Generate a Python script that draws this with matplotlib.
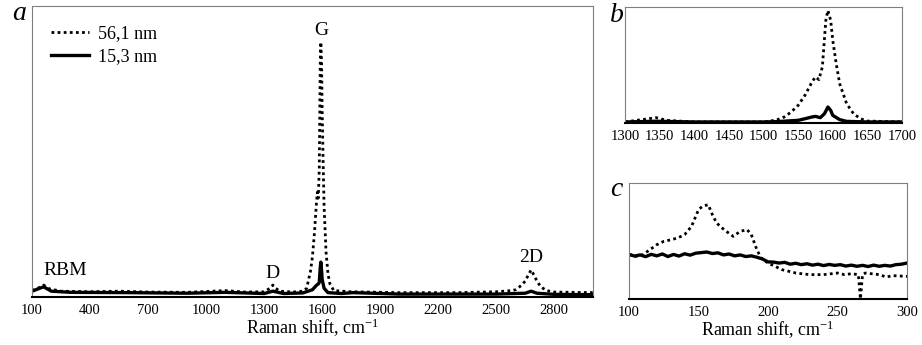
import matplotlib
matplotlib.use('Agg')
import matplotlib.pyplot as plt

plt.rcParams['font.family'] = ['Liberation Serif', 'DejaVu Serif']
plt.rcParams['mathtext.fontset'] = 'stix'

# panel a: full spectrum (relative intensity)
a_x_561 = [100, 130, 160, 190, 250, 400, 550, 700, 900, 1100, 1200, 1300, 1330, 1345, 1360, 1380,
           1450, 1500, 1520, 1540, 1550, 1560, 1570, 1575, 1580, 1585, 1590, 1593, 1597, 1600,
           1605, 1610, 1620, 1630, 1640, 1660, 1750, 2000, 2300, 2500, 2580, 2600, 2630, 2650,
           2665, 2680, 2695, 2710, 2730, 2760, 2800, 3000]
a_y_561 = [0.022, 0.030, 0.041, 0.028, 0.020, 0.018, 0.020, 0.017, 0.016, 0.022, 0.017, 0.018,
           0.030, 0.041, 0.030, 0.020, 0.017, 0.020, 0.030, 0.090, 0.140, 0.220, 0.320, 0.360,
           0.340, 0.440, 0.800, 0.876, 0.800, 0.640, 0.460, 0.310, 0.155, 0.080, 0.045, 0.022,
           0.018, 0.015, 0.015, 0.018, 0.022, 0.025, 0.040, 0.055, 0.075, 0.093, 0.075, 0.055,
           0.035, 0.022, 0.017, 0.015]
a_x_153 = [100, 160, 200, 300, 600, 900, 1100, 1300, 1345, 1400, 1500, 1550, 1570, 1580, 1585,
           1590, 1593, 1597, 1600, 1610, 1630, 1700, 1760, 2000, 2500, 2650, 2680, 2710, 2800, 3000]
a_y_153 = [0.020, 0.035, 0.020, 0.016, 0.015, 0.013, 0.016, 0.012, 0.020, 0.012, 0.014, 0.025,
           0.040, 0.045, 0.050, 0.100, 0.120, 0.090, 0.060, 0.030, 0.015, 0.012, 0.015, 0.010,
           0.010, 0.013, 0.020, 0.013, 0.009, 0.008]

# panel b: D and G region
b_x_561 = [1300, 1345, 1360, 1400, 1500, 1510, 1520, 1530, 1540, 1550, 1560, 1570, 1575, 1580,
           1585, 1590, 1593, 1597, 1600, 1605, 1610, 1620, 1630, 1640, 1650, 1700]
b_y_561 = [0.009, 0.046, 0.023, 0.009, 0.009, 0.017, 0.029, 0.052, 0.095, 0.152, 0.240, 0.353,
           0.397, 0.374, 0.483, 0.885, 0.971, 0.885, 0.713, 0.511, 0.339, 0.167, 0.080, 0.037,
           0.017, 0.009]
b_x_153 = [1300, 1345, 1400, 1500, 1520, 1550, 1560, 1570, 1575, 1582, 1588, 1593, 1597, 1600,
           1610, 1620, 1650, 1700]
b_y_153 = [0.009, 0.015, 0.009, 0.009, 0.012, 0.023, 0.037, 0.052, 0.057, 0.046, 0.080, 0.138,
           0.109, 0.066, 0.029, 0.014, 0.009, 0.009]

# panel c: RBM region
c_x_561 = [100, 105, 110, 115, 120, 125, 130, 135, 140, 145, 150, 153, 157, 160, 163, 167, 170,
           175, 180, 185, 188, 192, 195, 200, 205, 210, 220, 230, 240, 250, 255, 260, 265, 266.5,
           268, 270, 280, 285, 290, 300]
c_y_561 = [0.382, 0.368, 0.382, 0.425, 0.468, 0.497, 0.510, 0.526, 0.555, 0.626, 0.770, 0.800,
           0.813, 0.727, 0.655, 0.612, 0.583, 0.540, 0.583, 0.598, 0.555, 0.425, 0.353, 0.310,
           0.282, 0.253, 0.224, 0.210, 0.210, 0.224, 0.210, 0.218, 0.210, 0.0, 0.210, 0.224,
           0.210, 0.190, 0.201, 0.195]
c_x_153 = [100, 104, 108, 112, 116, 120, 124, 128, 132, 136, 140, 144, 148, 152, 156, 160, 164,
           168, 172, 176, 180, 184, 188, 192, 196, 200, 204, 208, 212, 216, 220, 224, 228, 232,
           236, 240, 244, 248, 252, 256, 260, 264, 268, 272, 276, 280, 284, 288, 292, 296, 300]
c_y_153 = [0.385, 0.370, 0.380, 0.365, 0.385, 0.372, 0.388, 0.366, 0.384, 0.370, 0.390, 0.378,
           0.395, 0.400, 0.405, 0.392, 0.398, 0.380, 0.388, 0.372, 0.380, 0.366, 0.372, 0.360,
           0.345, 0.320, 0.318, 0.310, 0.316, 0.300, 0.308, 0.296, 0.304, 0.292, 0.300, 0.288,
           0.298, 0.290, 0.296, 0.284, 0.292, 0.282, 0.290, 0.280, 0.292, 0.282, 0.290, 0.284,
           0.296, 0.300, 0.310]

a_ticks = [100, 400, 700, 1000, 1300, 1600, 1900, 2200, 2500, 2800]
b_ticks = [1300, 1350, 1400, 1450, 1500, 1550, 1600, 1650, 1700]
c_ticks = [100, 150, 200, 250, 300]

W, H = 922, 345
fig = plt.figure(figsize=(W / 100, H / 100), dpi=100)


def rect(l, t, r, b):
    return [l / W, 1 - b / H, (r - l) / W, (b - t) / H]


ax_a = fig.add_axes(rect(32, 6, 593, 297))
ax_b = fig.add_axes(rect(625, 7, 902, 123))
ax_c = fig.add_axes(rect(629, 183, 907, 299))

dot = dict(color='black', linestyle=(0, (1, 1.2)), linewidth=2.0)
sol = dict(color='black', linestyle='-', linewidth=2.4)

ax_a.plot(a_x_561, a_y_561, label='56,1 nm', **dot)
ax_a.plot(a_x_153, a_y_153, label='15,3 nm', **sol)
ax_b.plot(b_x_561, b_y_561, **dot)
ax_b.plot(b_x_153, b_y_153, **sol)
ax_c.plot(c_x_561, c_y_561, **dot)
ax_c.plot(c_x_153, c_y_153, **sol)

ax_a.set_xlim(100, 3000)
ax_b.set_xlim(1300, 1700)
ax_c.set_xlim(100, 300)
for ax, ticks in ((ax_a, a_ticks), (ax_b, b_ticks), (ax_c, c_ticks)):
    ax.set_ylim(0, 1)
    ax.set_yticks([])
    ax.set_xticks(ticks)
    ax.tick_params(axis='x', length=0, labelsize=10.5, pad=5)
    for s in ('top', 'right'):
        ax.spines[s].set_color('#7f7f7f')
    ax.spines['left'].set_color('#7f7f7f')
    ax.spines['bottom'].set_color('black')
    ax.spines['bottom'].set_linewidth(1.5)

xl = 'Raman shift, cm$^{\\mathregular{-1}}$'
ax_a.set_xlabel(xl, fontsize=13, labelpad=0)
ax_c.set_xlabel(xl, fontsize=13, labelpad=0)

ax_a.legend(loc='upper left', bbox_to_anchor=(0.005, 0.99), frameon=False, fontsize=13,
            handlelength=2.1, handletextpad=0.5, labelspacing=0.35)

ax_a.text(270, 0.062, 'RBM', fontsize=14, ha='center', va='bottom')
ax_a.text(1345, 0.052, 'D', fontsize=14, ha='center', va='bottom')
ax_a.text(1593, 0.885, 'G', fontsize=14, ha='center', va='bottom')
ax_a.text(2680, 0.105, '2D', fontsize=14, ha='center', va='bottom')

fig.text(12 / W, 1 - 14 / H, 'a', fontsize=20, style='italic', ha='left', va='center')
fig.text(610 / W, 1 - 16 / H, 'b', fontsize=20, style='italic', ha='left', va='center')
fig.text(610 / W, 1 - 190 / H, 'c', fontsize=20, style='italic', ha='left', va='center')

fig.savefig('out.png', dpi=100)
